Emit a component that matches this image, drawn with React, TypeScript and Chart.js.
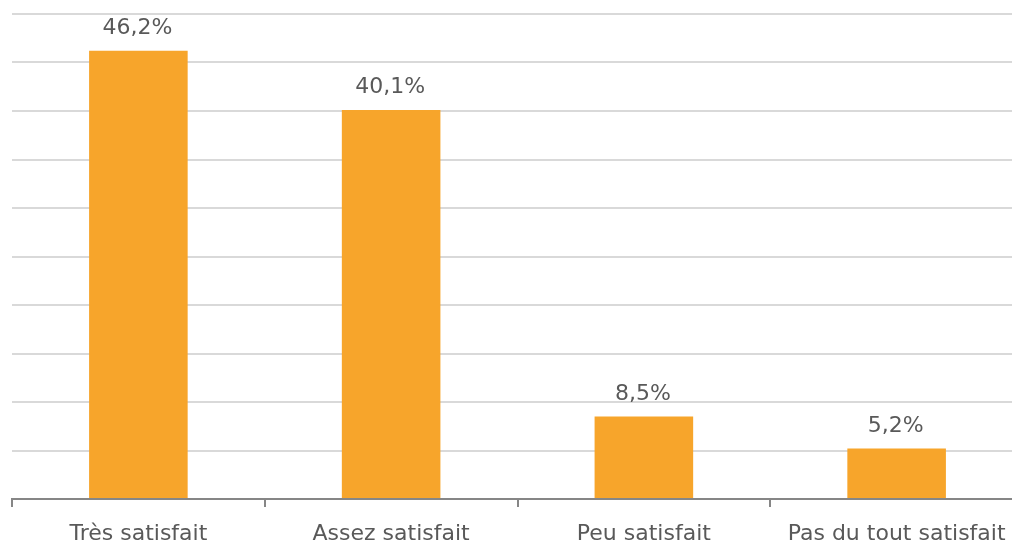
import React, { useEffect, useRef } from "react";
import { Chart, registerables } from "chart.js";

Chart.register(...registerables);

const categories = ["Très satisfait", "Assez satisfait", "Peu satisfait", "Pas du tout satisfait"];
const values = [46.2, 40.1, 8.5, 5.2];
const valueLabels = ["46,2%", "40,1%", "8,5%", "5,2%"];

const FONT = "'DejaVu Sans', sans-serif";
const TEXT = "#595959";

const barLabels = {
  id: "barLabels",
  afterDatasetsDraw(chart: any) {
    const { ctx } = chart;
    const meta = chart.getDatasetMeta(0);
    ctx.save();
    ctx.font = `22px ${FONT}`;
    ctx.fillStyle = TEXT;
    ctx.textAlign = "center";
    ctx.textBaseline = "alphabetic";
    meta.data.forEach((bar: any, i: number) => {
      ctx.fillText(valueLabels[i], bar.x - 1, bar.y - 17);
    });
    ctx.restore();
  },
};

export default function App() {
  const ref = useRef<HTMLCanvasElement>(null);

  useEffect(() => {
    document.body.style.margin = "0";
    document.body.style.overflow = "hidden";
    const chart = new Chart(ref.current!, {
      type: "bar",
      data: {
        labels: categories,
        datasets: [
          {
            data: values,
            backgroundColor: "#F7A52B",
            barPercentage: 0.39,
            categoryPercentage: 1,
          },
        ],
      },
      options: {
        animation: false,
        responsive: false,
        maintainAspectRatio: false,
        layout: { padding: { left: 12, top: 14, right: 0, bottom: 0 } },
        plugins: { legend: { display: false }, tooltip: { enabled: false } },
        scales: {
          x: {
            offset: true,
            afterFit: (s: any) => {
              s.height = 48;
            },
            border: { display: true, color: "#868686", width: 2 },
            grid: {
              display: true,
              offset: true,
              drawOnChartArea: false,
              drawTicks: true,
              tickLength: 8,
              color: "#868686",
              lineWidth: 2,
            },
            ticks: {
              color: TEXT,
              font: { family: FONT, size: 22 },
              padding: 14,
              maxRotation: 0,
              autoSkip: false,
            },
          },
          y: {
            min: 0,
            max: 50,
            afterFit: (s: any) => {
              s.width = 0;
            },
            border: { display: false },
            grid: { color: "#D9D9D9", lineWidth: 2, drawTicks: false },
            ticks: { display: false, stepSize: 5 },
          },
        },
      },
      plugins: [barLabels],
    });
    return () => chart.destroy();
  }, []);

  return (
    <div style={{ width: 1012, height: 547, overflow: "hidden", position: "relative", background: "#fff" }}>
      <canvas ref={ref} width={1023} height={547} style={{ position: "absolute", left: 0, top: 0 }} />
    </div>
  );
}
